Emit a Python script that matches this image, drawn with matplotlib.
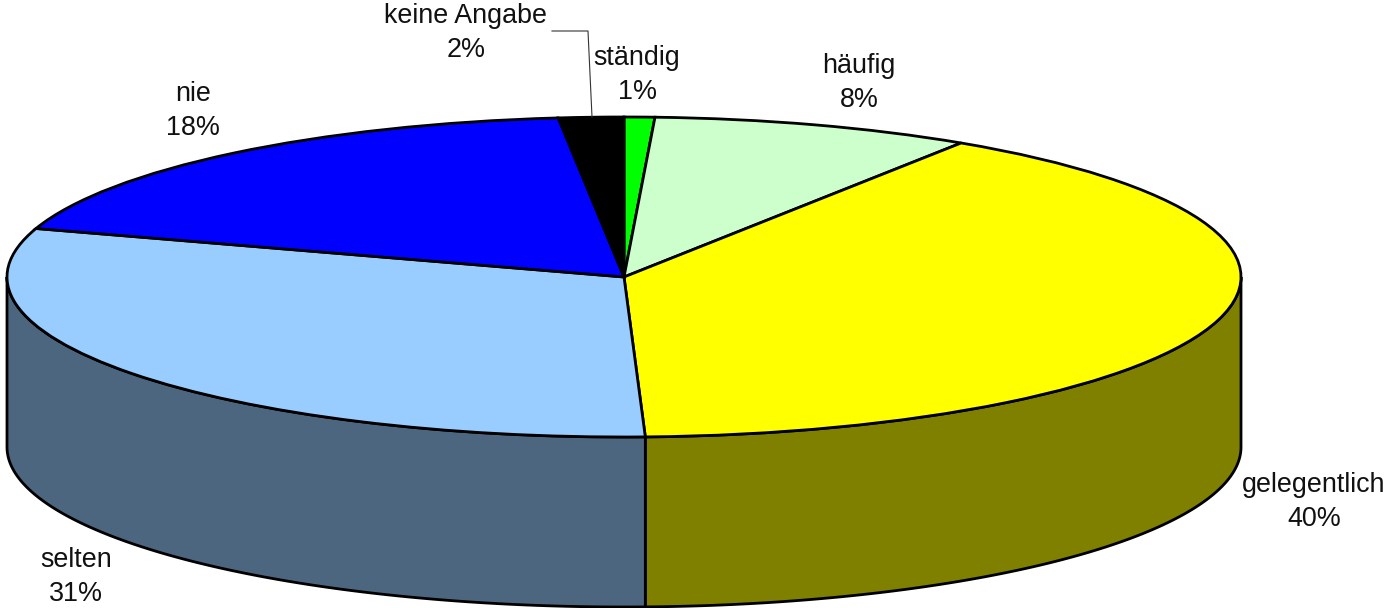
import numpy as np
import matplotlib
matplotlib.use('Agg')
import matplotlib.pyplot as plt
from matplotlib.colors import to_rgb

plt.rcParams['font.family'] = ['Liberation Sans', 'DejaVu Sans']

names = ['ständig', 'häufig', 'gelegentlich', 'selten', 'nie', 'keine Angabe']
percent = [1, 8, 40, 31, 18, 2]
# slice sizes, the labels are the rounded ones
shares = [0.8, 8.4, 40.25, 30.45, 18.4, 1.7]
colors = ['#00ff00', '#ccffcc', '#ffff00', '#99ccff', '#0000ff', '#000000']
label_x = [637, 859, 1314, 76, 193, 466]
label_y = [75, 83, 502, 577, 111, 33]

W, H = 1385, 608
cx, cy = 624, 277
rx, ry = 617, 160
depth = 170

fig = plt.figure(figsize=(W/100, H/100), dpi=100)
ax = fig.add_axes([0, 0, 1, 1])

ax.pie(shares, colors=colors, startangle=90, counterclock=False,
       wedgeprops={'edgecolor': 'black', 'linewidth': 2.0, 'zorder': 3})
ax.set_aspect('auto')
ax.set_xlim(-cx/rx, (W-cx)/rx)
ax.set_ylim(-(H-cy)/ry, cy/ry)

# side wall, only the part of each slice on the front half shows
d = depth/ry
edges = 90 - 3.6*np.cumsum([0] + shares)
for i in range(len(shares)):
    lo = max(edges[i+1], -180)
    hi = min(edges[i], 0)
    if hi <= lo:
        continue
    t = np.radians(np.linspace(hi, lo, 200))
    xs = np.cos(t)
    ys = np.sin(t)
    wall = [c/2 for c in to_rgb(colors[i])]
    ax.fill(np.r_[xs, xs[::-1]], np.r_[ys, ys[::-1]-d], facecolor=wall,
            edgecolor='black', linewidth=2.0, zorder=2)

for i in range(len(names)):
    ax.text((label_x[i]-cx)/rx, (cy-label_y[i])/ry, '%s\n%d%%' % (names[i], percent[i]),
            ha='center', va='center', fontsize=19.4, linespacing=1.36, color='#111111', zorder=5)

# leader line of keine Angabe
ax.plot([(552-cx)/rx, (588-cx)/rx, (592-cx)/rx], [(cy-31)/ry, (cy-31)/ry, (cy-117)/ry],
        color='#333333', linewidth=0.8, zorder=4)

fig.savefig('out.png', dpi=100)
